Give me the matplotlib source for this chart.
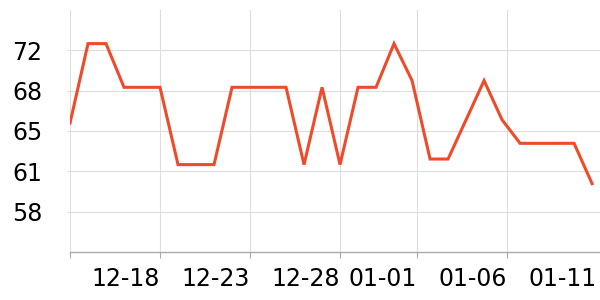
import numpy as np
import matplotlib
matplotlib.use("Agg")
import matplotlib.pyplot as plt

# donnees (un point par jour, a partir du 12-13)
jours = np.arange(30)
valeurs = [65.5, 72.6, 72.6, 68.7, 68.7, 68.7, 61.8, 61.8, 61.8, 68.7,
           68.7, 68.7, 68.7, 61.8, 68.7, 61.8, 68.7, 68.7, 72.6, 69.3,
           62.3, 62.3, 65.8, 69.3, 65.8, 63.7, 63.7, 63.7, 63.7, 60.1]

x_ticks = [0, 5, 10, 15, 19.26, 24.26, 29.28]
x_labels = ["", "12-18", "12-23", "12-28", "01-01", "01-06", "01-11"]
y_ticks = [57.6, 61.2, 64.8, 68.4, 72.0]
y_labels = ["58", "61", "65", "68", "72"]

fig = plt.figure(figsize=(6, 3), dpi=100)
ax = fig.add_axes([70/600, 1 - 252/300, 530/600, 242/300])

ax.plot(jours, valeurs, color='#EE4B2B', linewidth=2.2, solid_joinstyle='miter')

ax.set_xlim(0, 29.44)
ax.set_ylim(54.0, 75.6)
ax.set_xticks(x_ticks)
ax.set_xticklabels(x_labels, ha='right')
ax.set_yticks(y_ticks)
ax.set_yticklabels(y_labels)

ax.grid(True, color='#dddddd', linewidth=0.8)
ax.set_axisbelow(True)
for s in ['top', 'right', 'left']:
    ax.spines[s].set_visible(False)
ax.spines['bottom'].set_color('#aaaaaa')
ax.spines['bottom'].set_linewidth(1)

ax.tick_params(axis='x', length=4, color='#aaaaaa', pad=7, labelsize=17)
ax.tick_params(axis='y', length=2, color='#dddddd', pad=18, labelsize=17)

# pas de trait ni de grille pour le dernier tick (bord droit)
dernier = ax.xaxis.get_major_ticks()[-1]
dernier.tick1line.set_visible(False)
dernier.gridline.set_visible(False)

fig.savefig("out.png", dpi=100)
